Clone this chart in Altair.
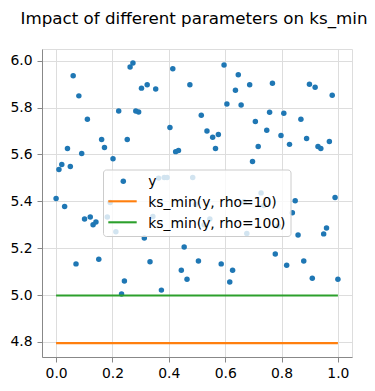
import altair as alt
import pandas as pd

# ---- data -------------------------------------------------------------
x_vals = [0.0, 0.0101, 0.0202, 0.0303, 0.0404, 0.0505, 0.0606, 0.0707, 0.0808, 0.0909,
          0.1010, 0.1111, 0.1212, 0.1313, 0.1414, 0.1515, 0.1616, 0.1717, 0.1818, 0.1919,
          0.2020, 0.2121, 0.2222, 0.2323, 0.2424, 0.2525, 0.2626, 0.2727, 0.2828, 0.2929,
          0.3030, 0.3131, 0.3232, 0.3333, 0.3434, 0.3535, 0.3636, 0.3737, 0.3838, 0.3939,
          0.4040, 0.4141, 0.4242, 0.4343, 0.4444, 0.4545, 0.4646, 0.4747, 0.4848, 0.4949,
          0.5051, 0.5152, 0.5253, 0.5354, 0.5455, 0.5556, 0.5657, 0.5758, 0.5859, 0.5960,
          0.6061, 0.6162, 0.6263, 0.6364, 0.6465, 0.6566, 0.6667, 0.6768, 0.6869, 0.6970,
          0.7071, 0.7172, 0.7273, 0.7374, 0.7475, 0.7576, 0.7677, 0.7778, 0.7879, 0.7980,
          0.8081, 0.8182, 0.8283, 0.8384, 0.8485, 0.8586, 0.8687, 0.8788, 0.8889, 0.8990,
          0.9091, 0.9192, 0.9293, 0.9394, 0.9495, 0.9596, 0.9697, 0.9798, 0.9899, 1.0]

y_vals = [5.412, 5.536, 5.557, 5.378, 5.625, 5.549, 5.936, 5.133, 5.850, 5.604,
          5.325, 5.750, 5.333, 5.300, 5.312, 5.153, 5.664, 5.630, 5.333, 5.395,
          5.582, 5.270, 5.785, 5.004, 5.060, 5.664, 5.973, 5.990, 5.785, 5.781,
          5.883, 5.243, 5.897, 5.142, 5.335, 5.879, 5.499, 5.021, 5.502, 5.502,
          5.715, 5.966, 5.612, 5.617, 5.106, 5.205, 5.067, 5.897, 5.502, 5.386,
          5.145, 5.767, 5.300, 5.700, 5.325, 5.673, 5.625, 5.685, 5.133, 5.982,
          5.815, 5.056, 5.106, 5.874, 5.940, 5.811, 5.398, 5.263, 5.897, 5.570,
          5.741, 5.634, 5.436, 5.382, 5.703, 5.780, 5.904, 5.175, 5.295, 5.681,
          5.776, 5.127, 5.643, 5.351, 5.402, 5.256, 5.750, 5.145, 5.668, 5.900,
          5.072, 5.887, 5.634, 5.625, 5.261, 5.286, 5.655, 5.853, 5.416, 5.067]

series_names = ["y", "ks_min(y, rho=10)", "ks_min(y, rho=100)"]
series_colors = ["#1f77b4", "#ff7f0e", "#2ca02c"]
ksmin_values = [4.795, 4.998]          # rho=10, rho=100
line_x = [0.0, 1.0]

x_ticks = [0.0, 0.2, 0.4, 0.6, 0.8, 1.0]
y_ticks = [4.8, 5.0, 5.2, 5.4, 5.6, 5.8, 6.0]
x_domain = [-0.05, 1.05]
y_domain = [4.7356, 6.050]

# ---- tables -----------------------------------------------------------
pts = pd.DataFrame({"x": x_vals, "y": y_vals})
rows = []
for name, v in zip(series_names[1:], ksmin_values):
    for xx in line_x:
        rows.append({"x": xx, "y": v, "series": name})
lines = pd.DataFrame(rows)

FONT = "DejaVu Sans"
W, H = 310, 308
LBL = 13.9

xs = alt.Scale(domain=x_domain, nice=False, zero=False)
ys = alt.Scale(domain=y_domain, nice=False, zero=False)
xa = alt.Axis(values=x_ticks, format=".1f", grid=True, labelFontSize=LBL,
              labelFont=FONT, labelPadding=4.5)
ya = alt.Axis(values=y_ticks, format=".1f", grid=True, labelFontSize=LBL,
              labelFont=FONT, labelPadding=4.9)

scatter = alt.Chart(pts).mark_circle(size=30, opacity=1, color=series_colors[0]).encode(
    x=alt.X("x:Q", scale=xs, axis=xa, title=None),
    y=alt.Y("y:Q", scale=ys, axis=ya, title=None),
)

line_chart = alt.Chart(lines).mark_line(strokeWidth=2.1).encode(
    x=alt.X("x:Q", scale=xs, title=None),
    y=alt.Y("y:Q", scale=ys, title=None),
    color=alt.Color("series:N",
                    scale=alt.Scale(domain=series_names[1:], range=series_colors[1:]),
                    legend=None),
    detail="series:N",
)

# ---- legend (drawn as decoration, matplotlib style) -------------------
one = alt.Data(values=[{"k": 1}])
leg_box = alt.Chart(one).mark_rect(
    fill="white", fillOpacity=0.8, stroke="#cccccc", strokeWidth=1, cornerRadius=3
).encode(x=alt.value(61.5), x2=alt.value(249), y=alt.value(121), y2=alt.value(187.5))

leg_dot = alt.Chart(one).mark_circle(size=30, opacity=1, color=series_colors[0]).encode(
    x=alt.value(81.3), y=alt.value(132.3))

leg_l1 = alt.Chart(one).mark_rule(strokeWidth=2.1, color=series_colors[1]).encode(
    x=alt.value(66.3), x2=alt.value(94.7), y=alt.value(152.3))
leg_l2 = alt.Chart(one).mark_rule(strokeWidth=2.1, color=series_colors[2]).encode(
    x=alt.value(66.3), x2=alt.value(94.7), y=alt.value(173.3))

def leg_text(label, yy):
    return alt.Chart(one).mark_text(
        align="left", baseline="alphabetic", font=FONT, fontSize=13.9, color="black"
    ).encode(x=alt.value(106.3), y=alt.value(yy), text=alt.value(label))

leg_t0 = leg_text(series_names[0], 137.4)
leg_t1 = leg_text(series_names[1], 158.2)
leg_t2 = leg_text(series_names[2], 179.0)

chart = alt.layer(
    scatter, line_chart, leg_box, leg_dot, leg_l1, leg_l2, leg_t0, leg_t1, leg_t2
).properties(
    width=W, height=H,
    title=alt.TitleParams(
        text="Impact of different parameters on ks_min",
        font=FONT, fontSize=16.7, fontWeight="normal", color="black",
        anchor="middle", baseline="alphabetic", offset=8, dx=-3,
    ),
    autosize=alt.AutoSizeParams(type="none"),
    padding={"left": 42, "top": 49, "right": 23, "bottom": 34},
).configure_view(
    stroke="black", strokeWidth=1
).configure_axis(
    labelFont=FONT, labelFontSize=LBL, labelColor="black",
    tickColor="black", tickSize=4.9, tickWidth=1,
    domain=False, gridColor="#b0b0b0", gridWidth=1,
).configure(background="white")

chart.save("out.html", embed_options={"renderer": "svg", "actions": False})
